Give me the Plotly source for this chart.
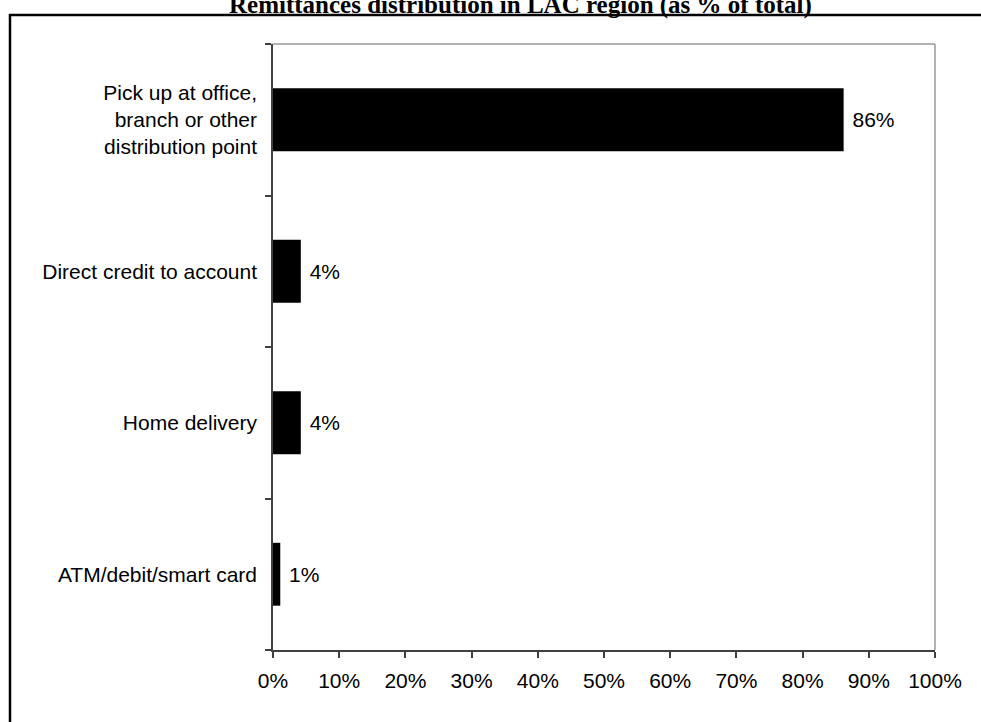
import plotly.graph_objects as go

categories = ["ATM/debit/smart card", "Home delivery", "Direct credit to account",
              "Pick up at office,<br>branch or other<br>distribution point"]
values = [0.011, 0.042, 0.042, 0.862]
x_ticks = [0, 0.1, 0.2, 0.3, 0.4, 0.5, 0.6, 0.7, 0.8, 0.9, 1.0]
title_text = "Remittances distribution in LAC region (as % of total)"

W, H = 981, 722
L, R, T, B = 273, 46, 44, 72
pw, ph = W - L - R, H - T - B

def px_x(p):
    return (p - L) / pw

def px_y(p):
    return (H - B - p) / ph

fig = go.Figure(go.Bar(
    x=values, y=categories, orientation="h",
    marker=dict(color="black", line=dict(width=0)),
    texttemplate=" %{x:.0%}", textposition="outside",
    textfont=dict(family="Liberation Sans, Arial", size=21, color="black"),
    cliponaxis=False,
))

fig.update_layout(
    width=W, height=H,
    margin=dict(l=L, r=R, t=T, b=B),
    paper_bgcolor="white", plot_bgcolor="white",
    bargap=0.585,
    showlegend=False,
    font=dict(family="Liberation Sans, Arial", size=21, color="black"),
    xaxis=dict(
        range=[0, 1], tickvals=x_ticks, tickformat=".0%",
        showgrid=False, zeroline=False,
        showline=True, linecolor="#404040", linewidth=2,
        ticks="outside", ticklen=6, tickcolor="#404040", tickwidth=1.5,
        tickfont=dict(size=21, color="black"),
        ticklabelstandoff=5,
        fixedrange=True,
    ),
    yaxis=dict(
        categoryorder="array", categoryarray=categories,
        showgrid=False, zeroline=False,
        showline=True, linecolor="#404040", linewidth=1.5,
        ticks="outside", ticklen=6, tickcolor="#404040", tickwidth=1.5,
        tickson="boundaries",
        tickfont=dict(size=21, color="black"),
        ticklabelstandoff=10,
        fixedrange=True,
    ),
    shapes=[
        dict(type="line", xref="paper", yref="paper", x0=0, x1=1, y0=1, y1=1,
             line=dict(color="#9a9a9a", width=1.5)),
        dict(type="line", xref="paper", yref="paper", x0=1, x1=1, y0=0, y1=1,
             line=dict(color="#9a9a9a", width=1.5)),
        dict(type="rect", xref="paper", yref="paper",
             x0=px_x(10), x1=px_x(1000), y0=px_y(760), y1=px_y(15),
             line=dict(color="black", width=2.5), fillcolor="rgba(0,0,0,0)",
             layer="above"),
    ],
    annotations=[
        dict(text="<b>" + title_text + "</b>", xref="paper", yref="paper",
             x=px_x(520), y=px_y(21), xanchor="center", yanchor="bottom",
             showarrow=False,
             font=dict(family="Liberation Serif, Times New Roman", size=25, color="black")),
    ],
)

fig.write_html("out.html")
